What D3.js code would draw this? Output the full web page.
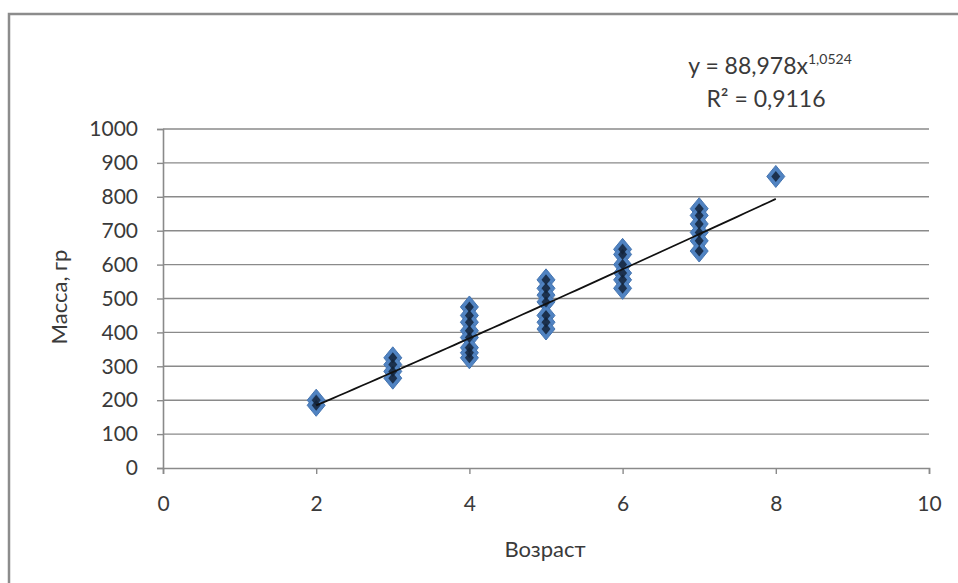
<!DOCTYPE html>
<html><head><meta charset="utf-8">
<script src="https://cdn.jsdelivr.net/npm/d3@7"></script>
<style>
html,body{margin:0;padding:0;background:#fff;}
text{font-family:Lato,"Open Sans",sans-serif;fill:#3a3a3a;}
</style></head>
<body><svg id="c" width="958" height="583"></svg>
<script>
// Data
const ages = [2,2, 3,3,3,3, 4,4,4,4,4,4,4,4, 5,5,5,5,5,5,5, 6,6,6,6,6,6, 7,7,7,7,7,7, 8];
const masses = [200,185, 325,305,285,265, 475,450,430,405,385,355,340,325, 555,530,510,490,450,430,410, 645,630,600,575,555,530, 765,745,720,695,670,640, 860];
const xTicks = [0,2,4,6,8,10];
const yTicks = [0,100,200,300,400,500,600,700,800,900,1000];
const trendCoef = 88.978, trendExp = 1.0524;
const trendXs = [2,8];
const eqLabel = "y = 88,978x", eqExp = "1,0524", r2Label = "R² = 0,9116";
const xTitle = "Возраст", yTitle = "Масса, гр";

const svg = d3.select("#c");
svg.append("rect").attr("x",9).attr("y",14).attr("width",1000).attr("height",700)
  .attr("fill","#fff").attr("stroke","#8c8c8c").attr("stroke-width",2.5);

const x = d3.scaleLinear().domain([0,10]).range([163,929]);
const y = d3.scaleLinear().domain([0,1000]).range([468,129]);

// gridlines
svg.append("g").selectAll("line").data(yTicks.filter(d=>d>0)).join("line")
  .attr("x1",x(0)).attr("x2",x(10)).attr("y1",d=>y(d)).attr("y2",d=>y(d))
  .attr("stroke","#8a8a8a").attr("stroke-width",1.4);

const yAxis = svg.append("g").attr("transform",`translate(${x(0)},0)`)
  .call(d3.axisLeft(y).tickValues(yTicks).tickSize(6).tickPadding(19).tickFormat(d3.format("d")));
const xAxis = svg.append("g").attr("transform",`translate(0,${y(0)})`)
  .call(d3.axisBottom(x).tickValues(xTicks).tickSize(6).tickPadding(22).tickFormat(d3.format("d")));
[xAxis,yAxis].forEach(g=>{
  g.select(".domain").attr("stroke","#8a8a8a").attr("stroke-width",1.6);
  g.selectAll(".tick line").attr("stroke","#8a8a8a").attr("stroke-width",1.4);
  g.selectAll("text").attr("font-size",21).attr("fill","#3a3a3a").attr("font-family","Lato,'Open Sans',sans-serif");
});

// markers: blue diamonds, then dark centres
const diamond = (w,h)=>`M0,${-h}L${w},0L0,${h}L${-w},0Z`;
const pts = ages.map((a,i)=>({a, m:masses[i]}));
svg.append("g").selectAll("path").data(pts).join("path")
  .attr("transform",d=>`translate(${x(d.a)},${y(d.m)})`)
  .attr("d",diamond(9,11)).attr("fill","#5083c2").attr("stroke","#4675b0").attr("stroke-width",1);
svg.append("g").selectAll("path").data(pts).join("path")
  .attr("transform",d=>`translate(${x(d.a)},${y(d.m)})`)
  .attr("d",diamond(4.5,5.5)).attr("fill","#13233a").attr("opacity",0.85);

// trendline
const tData = d3.range(trendXs[0], trendXs[1]+0.001, 0.1).map(v=>[v, trendCoef*Math.pow(v,trendExp)]);
svg.append("path").datum(tData)
  .attr("d", d3.line().x(d=>x(d[0])).y(d=>y(d[1])))
  .attr("fill","none").attr("stroke","#111").attr("stroke-width",1.8);

// equation
const eq = svg.append("text").attr("x",770).attr("y",74).attr("text-anchor","middle").attr("font-size",23);
eq.append("tspan").text(eqLabel);
eq.append("tspan").attr("dy",-10).attr("font-size",14).text(eqExp);
svg.append("text").attr("x",766).attr("y",107).attr("text-anchor","middle").attr("font-size",23).text(r2Label);

// titles
svg.append("text").attr("x",545).attr("y",557).attr("text-anchor","middle").attr("font-size",22).text(xTitle);
svg.append("text").attr("transform","translate(67,297) rotate(-90)").attr("text-anchor","middle").attr("font-size",22).text(yTitle);
</script></body></html>
